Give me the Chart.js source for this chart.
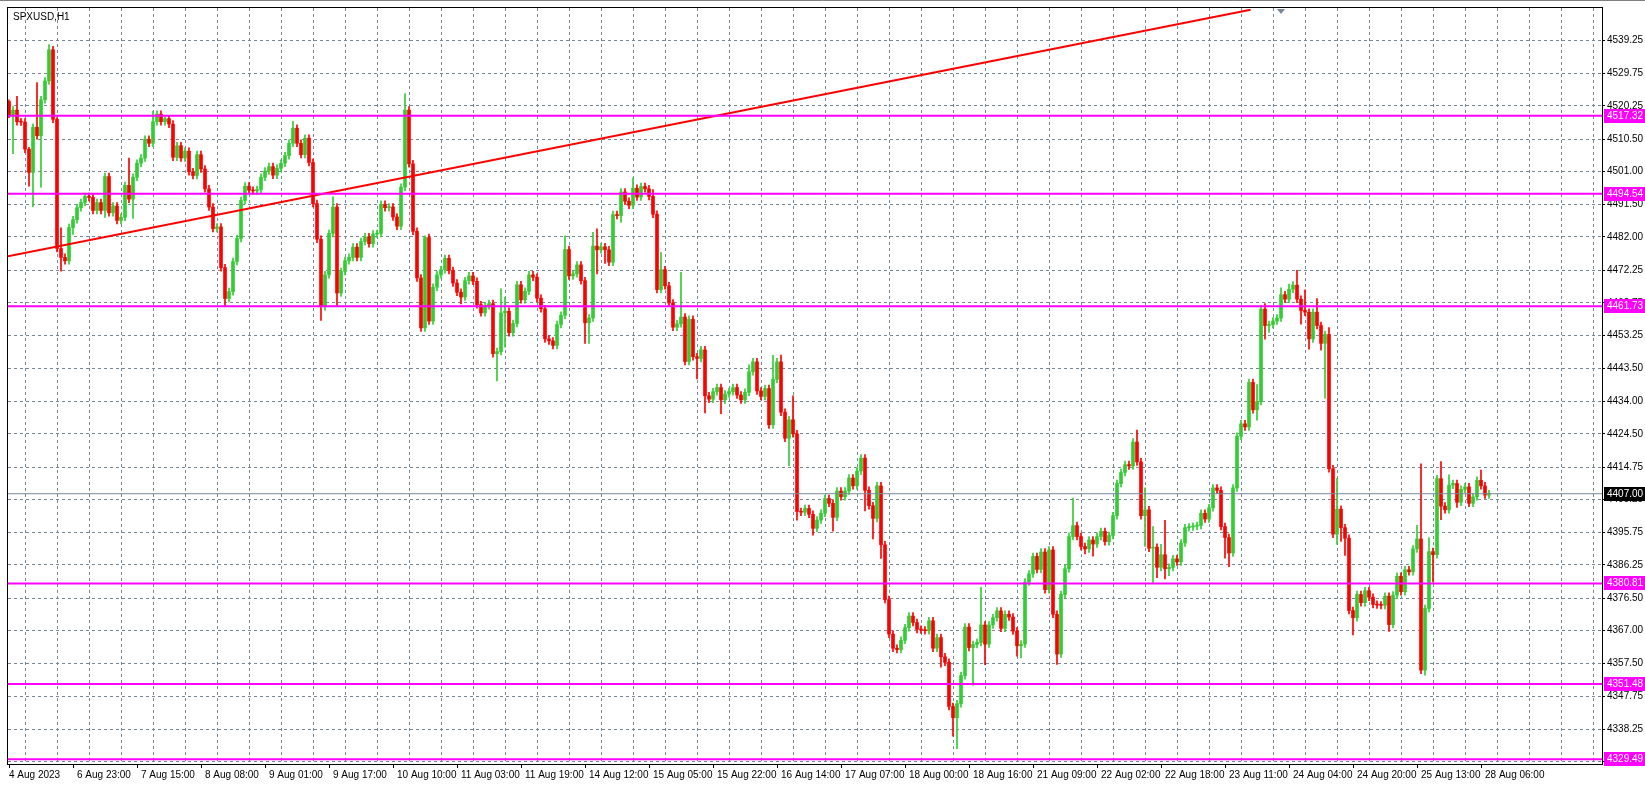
<!DOCTYPE html>
<html>
<head>
<meta charset="utf-8">
<script src="https://cdn.jsdelivr.net/npm/chart.js@4.4.0/dist/chart.umd.min.js"></script>
<style>
  html, body { margin: 0; padding: 0; background: #fff; overflow: hidden; }
  #stage { display: block; }
</style>
</head>
<body>
<canvas id="stage" width="1645" height="785"></canvas>
<script>
// SPXUSD H1 closes, bar 0 = 4 Aug 2023 (open of first bar below)
const firstOpen = 4521.5;
const closes = [
  4517.3,4519,4515.6,4515.5,4507.6,4500.8,4514,4511.5,4522,4527.5,4536.6,4516.3,4478.6,4476,4475,4484.7,4487,4490.5,4492,4493.8,
  4493.5,4489.7,4492,4489.7,4499.6,4489,4491,4486.8,4487.7,4497,4493,4499.4,4503.5,4505,4510.5,4509.3,4515.6,4517.8,4515.6,4516.5,
  4514.9,4505.2,4508.6,4505,4507,4501,4499.9,4506,4501.8,4496,4490.7,4484.4,4484.9,4473,4464,4466,4474.8,4481.5,4492.6,4496.8,
  4495.6,4495.4,4495.8,4499.4,4501.2,4502.5,4500,4502,4503.5,4505.7,4509.3,4513.7,4509.3,4506,4510.8,4503.7,4491.7,4481.3,4461.6,4470.9,
  4483,4490.7,4465.6,4471.9,4475,4476,4479,4476,4480.6,4482,4480,4482.8,4483,4491.5,4490.5,4490.7,4487.8,4485.1,4496.5,4519,
  4503.3,4483.6,4470,4455.4,4481.8,4457.4,4467.3,4470.9,4472.4,4475.7,4472.2,4468.5,4465.8,4464.4,4469.2,4470.6,4469,4462.2,4459.8,4461.9,
  4462.5,4447.9,4448.5,4459.8,4460.3,4454,4456.7,4468,4463.6,4466.1,4470.9,4470.2,4464.1,4461,4452.2,4451.6,4450.3,4456.4,4459.1,4478.3,
  4470.6,4471.2,4473.8,4469.2,4456.9,4458.3,4479.3,4478.2,4479.1,4478.2,4474.6,4488.5,4488.2,4495.1,4492.4,4491.2,4496.2,4493.6,4496.7,4496,
  4493.8,4488.6,4466.6,4472.4,4467.7,4462.7,4455.6,4456.6,4458.6,4445.6,4457.9,4447,4446.5,4449,4435.6,4434.6,4436.8,4438,4434.4,4436.1,
  4436.8,4438,4435.8,4434.4,4436.6,4442.6,4445.5,4437,4435.4,4437.7,4427.1,4440.4,4445.5,4430.8,4423.2,4428.6,4424.5,4401.8,4401.6,4402.7,
  4401,4396.9,4399.3,4401.3,4405.6,4404.2,4400.1,4407.8,4406.1,4407.8,4411.6,4409.3,4413.6,4417.4,4408,4403.5,4399.8,4409.3,4392.1,4376.1,
  4366,4361.9,4361.5,4364.2,4367.9,4371.3,4369.4,4367.4,4367.2,4367,4369.9,4361.9,4365,4359.4,4357.8,4344.9,4341.6,4345.7,4353.9,4368.1,
  4362.1,4363,4363.6,4368.7,4363.1,4368.7,4370.8,4372.8,4367.7,4371.8,4371,4366.9,4362.6,4363.1,4381.2,4383.6,4388.7,4384.9,4390,4379,
  4390.6,4371.8,4360.2,4377.6,4385.1,4394.5,4397.7,4394.5,4391.6,4390.9,4393.5,4392.3,4394.5,4396,4393,4394.8,4400.6,4410,4413.2,4415.5,
  4415.1,4422.1,4416.3,4400.6,4402.3,4391.1,4391.4,4385.5,4389.2,4385.1,4385.5,4388,4387.1,4392.6,4397.1,4397.3,4397.5,4397.7,4401.3,4399.6,
  4402.9,4408.7,4408,4397.4,4394.2,4389.7,4408.7,4423.8,4427.4,4426.5,4439.5,4431.5,4433.9,4460.9,4456.1,4456.4,4457.4,4458.3,4465.1,4463.8,
  4466.7,4467.9,4463.8,4460.5,4460,4452.2,4460,4456.1,4450.9,4453.5,4414.3,4395.2,4402.5,4397.1,4394,4372.9,4370.8,4377.6,4375.2,4378.7,
  4376.8,4374.7,4374.5,4374.4,4377.1,4368.8,4377.4,4382.9,4378.4,4384.8,4384.2,4390.9,4393.8,4355.5,4373.5,4390.1,4389.2,4411.4,4403.4,4402.3,
  4409.5,4410,4404.5,4408.3,4409,4404.2,4406.1,4410.9,4409.3,4406.6,4407
];
// wick length above / below the body, in points
const upWick = [
  0.5,1,4,1,1,0.5,1,13,1,1,1.5,1,0.5,6,1,1,1,1,1,1,
  1,1,1,1,1,1,1,1,1,1,8,1,1,1,1,1,3,1,1,1,
  1,1,1,1,1,1,1,1,1,1,1,1,1,1,1,1,1,1,1,1,
  1,1,1,1,1,1,1,1,1,1,1,2,1,1,1,1,1,1,1,1,
  1,3,1,1,1,1,1,1,1,1,1,1,1,1,1,1,1,1,1,4.8,
  1,1,1,1,0.5,1,1,1,1,1,1,1,1,1,1,1,1,1,1,1,
  1,1,1,7,4,1,1,1,1,1,1,1,1,1,1,1,1,1,1,4,
  1,1,1,1,1,1,4,5,1,1,1,1,1,1,1,1,3,1,1,1,
  1,2,1,5,1,1,1,1,13,1,1,1,1,1,1,1,1,1,1,1,
  1,1,1,1,1,2,1,1,1,1,1,7,1,2,1,1,7,1,1,1,
  1,1,1,1,1,1,1,1,1,1,1,1,1,1,1,1,1,1,1,1,
  1,1,1,1,1,1,1,1,1,1,1,1,1,1,1,1,1,1,1,1,
  1,1,1,11,1,1,1,1,1,1,1,1,1,1,1,1,1,1,1,1,
  1,1,1,1,1,1,8,1,1,1,1,1,1,1,1,1,1,1,1,1,
  1,1,3.5,1,6.4,1,6,1,3,10,1,1,1,1,1,1,1,1,1,1,
  1,1,1,1,1,1,1,1,1,1,1,1,5,1,1.6,1,1,1,2,1,
  1.5,1,4.3,1,6,1,1,4,1,1,2,1,9,1,1,1,1,1,1,1,
  1,1,1,1,1,1,1,1,1,1,1,1,4,21.9,1,4,1,1,5,1,
  3,1,1,1,1,1,1,1,3,1,1
];
const dnWick = [
  0.5,11,1,1,1,4,10,1,15,1,1,1,1,4,1,1,2,1,1,1,
  1,1,1,1,2,1,1,1,1,1,1,5.6,1,1,1,1,1,1,1,1,
  1,1,1,1,1,1,1,1,1,1,1,1,1,1,2,1,1,1,1,1,
  1,1,1,1,1,1,1,1,1,1,1,1,1,1,1,1,1,1,4,1,
  1,1,3.6,1,1,1,1,1,1,1,1,1,1,1,1,1,1,1,1,1,
  1,1,1,1,1,1,1,1,1,1,1,1,1,2,1,1,1,1,1,1,
  1,1,8,1,10,1,1,1,1,1,1,1,1,1,1,1,1,1,1,1,
  1,1,1,1,6,6,1,7,1,4,1,1,1,2,1,1,1,1,1,1,
  1,1,1,1,1,1,1,1,1,1,1,1,6,1,5,1,1,1,4,1,
  1,1,1,1,1,1,1,1,1,1,1,1,1,1,1,8,1,2.5,1,1,
  1,2,1,1,1,1,4,1,1,1,1,1,1,1,6,1,6,1,4,1,
  1,1,1,1,1,1,1,1,1,1,1,1,1,3,1,1,5.4,9,1,1,
  1,11,1,1,6,1,1,1,1,1,1,1,3,3.5,1,1,1,1,1,1,
  1,1,3,1,1,1,1,1,1,1.5,1,3.5,1,1,1,1,1,1,1,1,
  1,1,1,1,9,1,10,3,1,3,2,1,1,1,1,1,1,1,1,1,
  1,1,1,1,6,4,1,1,1,1,1,1,3,1,4,2,1,1,1,1,
  1,1,1,4,1,3,1,1,2,16,1,1,3,4,5,1,5,1,1,1,
  1,1,1,1,1,2,1,1,1,1,1,1,1,1,1.5,1,8,1,4,1,
  1,1,1.5,1,1,1,1,1,1,1,1
];
const timeLabels = ['4 Aug 2023','6 Aug 23:00','7 Aug 15:00','8 Aug 08:00','9 Aug 01:00','9 Aug 17:00',
  '10 Aug 10:00','11 Aug 03:00','11 Aug 19:00','14 Aug 12:00','15 Aug 05:00','15 Aug 22:00','16 Aug 14:00',
  '17 Aug 07:00','18 Aug 00:00','18 Aug 16:00','21 Aug 09:00','22 Aug 02:00','22 Aug 18:00','23 Aug 11:00',
  '24 Aug 04:00','24 Aug 20:00','25 Aug 13:00','28 Aug 06:00'];
const priceTicks = [4539.25,4529.75,4520.25,4510.50,4501.00,4491.50,4482.00,4472.25,4462.75,4453.25,4443.50,
  4434.00,4424.50,4414.75,4405.25,4395.75,4386.25,4376.50,4367.00,4357.50,4347.75,4338.25,4328.75];
const levels = [4517.32,4494.54,4461.73,4380.81,4351.48,4329.49];
const lastPrice = 4407.00;
const trendX = [-0.25, 310.4];
const trendY = [4476.3, 4548.3];

const UP = '#32cd32', DOWN = '#ff0000', MAG = '#ff00ff';
const X_MIN = -0.25, X_MAX = 398.25;

const bodies = [], wicks = [], colors = [];
for (let i = 0; i < closes.length; i++) {
  const o = i ? closes[i - 1] : firstOpen;
  const c = closes[i];
  bodies.push({x: i, y: [o, c]});
  wicks.push({x: i, y: [Math.min(o, c) - dnWick[i], Math.max(o, c) + upWick[i]]});
  colors.push(c >= o ? UP : DOWN);
}

const datasets = [];
levels.forEach(v => datasets.push({
  type: 'line', data: [{x: X_MIN, y: v}, {x: X_MAX, y: v}],
  borderColor: MAG, borderWidth: 2, pointRadius: 0, order: 0
}));
datasets.push({
  type: 'line', data: [{x: X_MIN, y: lastPrice}, {x: X_MAX, y: lastPrice}],
  borderColor: '#778899', borderWidth: 1, pointRadius: 0, order: 0
});
datasets.push({
  type: 'line', data: [{x: trendX[0], y: trendY[0]}, {x: trendX[1], y: trendY[1]}],
  borderColor: '#ff0000', borderWidth: 2, pointRadius: 0, order: 0
});
datasets.push({type: 'bar', data: bodies, backgroundColor: colors, barThickness: 3, minBarLength: 1, grouped: false, order: 1});
datasets.push({type: 'bar', data: wicks, backgroundColor: colors, barThickness: 1, grouped: false, order: 2});

const FONT = '10px "Liberation Sans", Arial, sans-serif';

const overlay = {
  id: 'overlay',
  afterDraw(chart) {
    const ctx = chart.ctx, a = chart.chartArea;
    const xs = chart.scales.x, ys = chart.scales.y;
    ctx.save();
    // frame
    ctx.strokeStyle = '#000'; ctx.lineWidth = 1;
    ctx.strokeRect(a.left - 0.5, a.top - 0.5, a.right - a.left + 1, a.bottom - a.top + 1);
    ctx.strokeStyle = '#808080';
    ctx.beginPath(); ctx.moveTo(0, 0.5); ctx.lineTo(1645, 0.5); ctx.stroke();
    // time labels
    ctx.font = FONT; ctx.fillStyle = '#000'; ctx.textBaseline = 'middle'; ctx.textAlign = 'left';
    timeLabels.forEach((t, k) => {
      const px = xs.getPixelForValue(16 * k);
      ctx.strokeStyle = '#000';
      ctx.beginPath(); ctx.moveTo(Math.round(px) + 0.5, a.bottom); ctx.lineTo(Math.round(px) + 0.5, a.bottom + 4); ctx.stroke();
      ctx.fillText(t, px + 4 - (k === 0 ? 4 : 0), a.bottom + 11);
    });
    // price boxes
    const box = (v, bg) => {
      const py = Math.round(ys.getPixelForValue(v));
      ctx.fillStyle = bg;
      ctx.fillRect(a.right + 2, py - 7, 1645 - a.right - 2, 14);
      ctx.fillStyle = '#fff';
      ctx.fillText(v.toFixed(2), a.right + 5, py);
    };
    levels.forEach(v => box(v, MAG));
    box(lastPrice, '#000');
    // title
    ctx.fillStyle = '#000';
    ctx.fillText('SPXUSD,H1', a.left + 5, a.top + 9);
    // shift marker
    ctx.fillStyle = '#778899';
    ctx.beginPath(); ctx.moveTo(1277, a.top + 1); ctx.lineTo(1285, a.top + 1); ctx.lineTo(1281, a.top + 6); ctx.fill();
    ctx.restore();
  }
};

new Chart(document.getElementById('stage'), {
  data: {datasets: datasets},
  plugins: [overlay],
  options: {
    responsive: false, animation: false, devicePixelRatio: 1,
    layout: {padding: {left: 8, top: 3, right: 0, bottom: 0}},
    plugins: {legend: {display: false}, tooltip: {enabled: false}},
    scales: {
      x: {
        type: 'linear', min: X_MIN, max: X_MAX, offset: false,
        afterBuildTicks: s => { const t = []; for (let v = 0; v <= X_MAX; v += 8) t.push({value: v}); s.ticks = t; },
        afterFit: s => { s.height = 21; },
        ticks: {display: false},
        grid: {color: '#778899', drawTicks: false, lineWidth: 1},
        border: {display: false, dash: [3, 3]}
      },
      y: {
        position: 'right', min: 4328.1, max: 4548.8,
        afterBuildTicks: s => { s.ticks = priceTicks.map(v => ({value: v})); },
        afterFit: s => { s.width = 43; },
        ticks: {color: '#000', font: {family: '"Liberation Sans", Arial, sans-serif', size: 10}, padding: 2,
          callback: v => v.toFixed(2)},
        grid: {color: '#778899', tickColor: '#000', tickLength: 3, lineWidth: 1},
        border: {display: false, dash: [3, 3]}
      }
    }
  }
});
</script>
</body>
</html>
